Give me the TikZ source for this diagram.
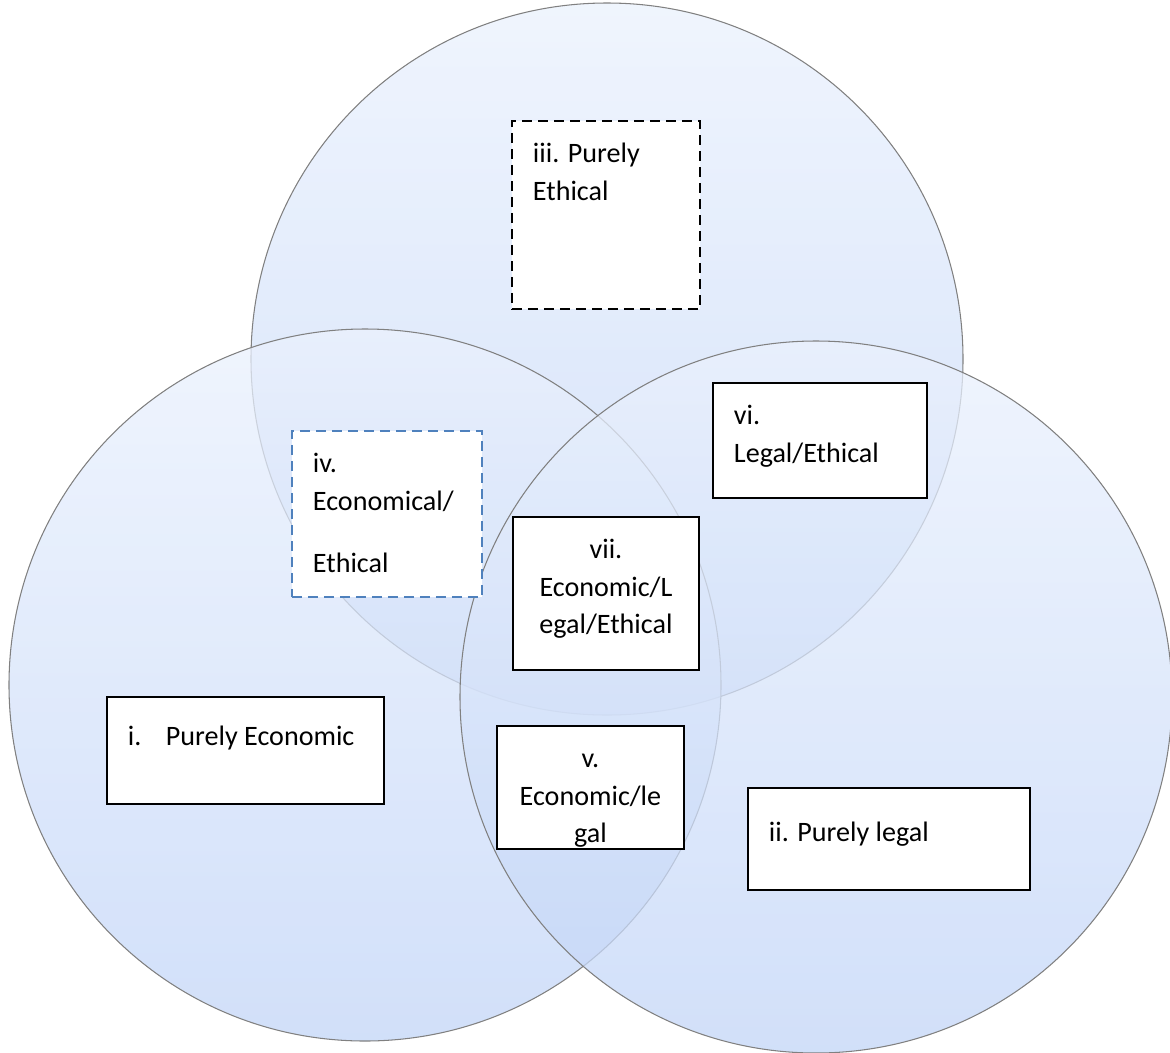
\documentclass[tikz,border=0pt]{standalone}
\usepackage{fontspec}
\setmainfont{Carlito}
\usepackage{tikz}
\usepackage{xcolor}
\definecolor{venntop}{RGB}{234,241,253}
\definecolor{vennbot}{RGB}{194,213,247}
\definecolor{dashblue}{RGB}{79,129,189}
\newcommand{\zonetext}[3]{\parbox[t][#2][t]{#1}{#3}}

\begin{document}
\begin{tikzpicture}[x=0.02cm, y=-0.02cm,
	venn/.style={top color=venntop, bottom color=vennbot, fill opacity=0.75,
		draw=black!50, line width=0.6pt},
	zone/.style={draw, line width=1.1pt, fill=white, anchor=north west,
		inner xsep=0.42cm, inner ysep=0.3cm,
		font=\fontsize{16}{21.5}\selectfont},
	dashzone/.style={zone, dash pattern=on 0.2cm off 0.12cm}]
			\useasboundingbox (0,0) rectangle (1170,1052);
			% Drei Kreise
			\shade[venn] (607,359) circle[radius=356];
			\shade[venn] (365,685) circle[radius=356];
			\shade[venn] (816,697) circle[radius=356];
			% Felder
			\node[dashzone] (ethical) at (511,120) {
				\zonetext{2.92cm}{3.16cm}{\raggedright
				\strut iii. Purely\\
				Ethical}
			};
			\node[dashzone, draw=dashblue] (econethic) at (291,430) {
				\zonetext{2.96cm}{2.72cm}{\raggedright
				\strut iv.\\
				Economical/\\[0.5cm]
				Ethical}
			};
			\node[zone] (legalethic) at (712,382) {
				\zonetext{3.44cm}{1.7cm}{\raggedright
				\strut vi.\\
				Legal/Ethical}
			};
			\node[zone] (allthree) at (512,516) {
				\zonetext{2.88cm}{2.46cm}{\centering
				\strut vii.\\
				Economic/L\\
				egal/Ethical}
			};
			\node[zone, inner ysep=0.45cm] (economic) at (106,696) {
				\zonetext{4.7cm}{1.24cm}{\raggedright
				\strut\makebox[0.76cm][l]{i.}Purely Economic}
			};
			\node[zone] (econlegal) at (496,725) {
				\zonetext{2.9cm}{1.86cm}{\centering
				\strut v.\\
				Economic/le\\
				gal}
			};
			\node[zone, inner ysep=0.55cm] (legal) at (747,787) {
				\zonetext{4.8cm}{0.94cm}{\raggedright
				\strut ii. Purely legal}
			};
		\end{tikzpicture}
\end{document}
